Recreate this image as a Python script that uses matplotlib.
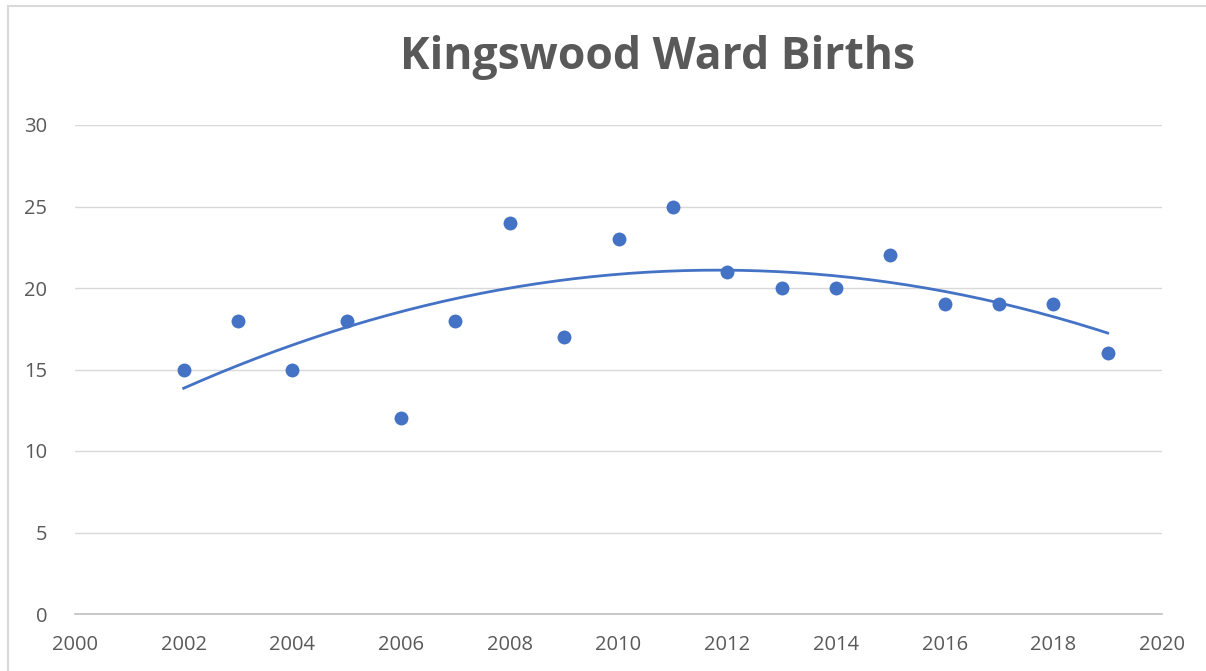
import numpy as np
import matplotlib
matplotlib.use("Agg")
import matplotlib.pyplot as plt
from matplotlib.lines import Line2D

years = [2002, 2003, 2004, 2005, 2006, 2007, 2008, 2009, 2010,
         2011, 2012, 2013, 2014, 2015, 2016, 2017, 2018, 2019]
births = [15, 18, 15, 18, 12, 18, 24, 17, 23,
          25, 21, 20, 20, 22, 19, 19, 19, 16]

BLUE = "#4472c4"
TEXT = "#595959"
GRID = "#d9d9d9"
AXIS = "#bfbfbf"

plt.rcParams["font.family"] = ["Open Sans", "DejaVu Sans"]

fig = plt.figure(figsize=(12.06, 6.71), dpi=100)
ax = fig.add_axes([75 / 1206, 1 - 614 / 671, (1162 - 75) / 1206, (614 - 125) / 671])

ax.scatter(years, births, s=100, color=BLUE, zorder=3, linewidths=0)

# polynomial (order 2) trendline like Excel's
coef = np.polyfit(years, births, 2)
xs = np.linspace(min(years), max(years), 200)
ax.plot(xs, np.polyval(coef, xs), color=BLUE, lw=2, zorder=2)

ax.set_xlim(2000, 2020)
ax.set_ylim(0, 30)
ax.set_xticks(range(2000, 2021, 2))
ax.set_yticks(range(0, 31, 5))
ax.yaxis.grid(True, color=GRID, lw=1)
ax.set_axisbelow(True)
for s in ["top", "right", "left"]:
    ax.spines[s].set_visible(False)
ax.spines["bottom"].set_color(AXIS)
ax.spines["bottom"].set_linewidth(1.2)
ax.tick_params(length=0, labelsize=14.5, colors=TEXT)
ax.tick_params(axis="x", pad=15)
ax.tick_params(axis="y", pad=20)

fig.text(658 / 1206, 1 - 58 / 671, "Kingswood Ward Births", ha="center", va="center",
         fontsize=32, fontweight="bold", color=TEXT)

# outer chart border (top and left visible in the crop)
fig.add_artist(Line2D([8 / 1206, 1], [1 - 6 / 671, 1 - 6 / 671], color=GRID, lw=1.5,
                      transform=fig.transFigure))
fig.add_artist(Line2D([8 / 1206, 8 / 1206], [0, 1 - 6 / 671], color=GRID, lw=1.5,
                      transform=fig.transFigure))

fig.savefig("out.png", dpi=100, facecolor="white")
